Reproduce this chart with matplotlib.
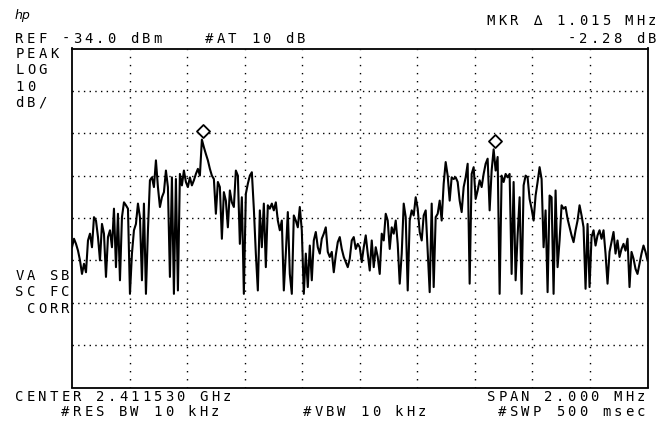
import numpy as np
import matplotlib
matplotlib.use("Agg")
import matplotlib.pyplot as plt
from matplotlib.path import Path
from matplotlib.transforms import ScaledTranslation

W, H, DPI = 657, 421, 100

# analyzer settings
ref_level = -34.0      # dBm, top graticule line
db_per_div = 10
n_vdiv = 8
n_hdiv = 10
span_mhz = 2.0

# swept trace, dBm, left to right across the span
trace_dbm = [
    -80.9, -78.9, -80.1, -81.7, -84.0, -87.2, -84.8, -86.8, -79.3, -77.7, -80.9, -73.8,
    -74.6, -78.5, -84.0, -75.4, -77.7, -87.9, -78.5, -76.9, -80.9, -71.8, -85.6, -73.0,
    -88.7, -73.8, -70.3, -71.0, -71.8, -91.9, -82.4, -76.9, -75.4, -70.6, -73.8, -88.7,
    -70.6, -91.9, -76.9, -65.1, -64.4, -66.7, -60.4, -66.7, -71.4, -69.1, -67.9, -62.8,
    -66.7, -87.9, -64.4, -91.9, -64.8, -91.1, -63.6, -66.3, -62.8, -65.5, -66.7, -64.4,
    -66.3, -65.1, -63.6, -62.4, -64.0, -55.5, -57.3, -58.9, -60.4, -62.4, -64.0, -64.8,
    -73.0, -65.5, -66.7, -78.9, -67.9, -69.9, -76.2, -67.5, -70.3, -71.4, -62.8, -64.0,
    -80.1, -69.1, -91.9, -68.3, -65.9, -64.0, -63.2, -71.8, -82.4, -91.1, -72.2, -80.9,
    -70.6, -85.6, -71.0, -71.8, -70.6, -72.2, -70.3, -74.6, -76.9, -74.6, -91.1, -82.4,
    -72.6, -87.2, -91.9, -73.4, -74.6, -76.2, -71.4, -76.9, -91.9, -82.4, -90.3, -80.5,
    -88.7, -79.3, -77.3, -80.9, -82.4, -78.9, -77.7, -76.2, -82.0, -83.2, -82.0, -86.8,
    -82.8, -79.7, -78.5, -81.3, -83.2, -84.4, -85.6, -83.6, -79.3, -78.5, -81.3, -80.1,
    -80.9, -84.4, -80.9, -78.1, -82.4, -86.4, -79.3, -85.6, -80.9, -83.2, -87.2, -77.7,
    -79.3, -73.0, -74.6, -81.3, -76.2, -77.7, -74.6, -80.1, -89.5, -82.4, -70.6, -73.8,
    -91.1, -74.6, -72.2, -73.4, -69.1, -71.8, -77.3, -79.3, -73.4, -72.2, -81.7, -91.5,
    -70.6, -90.3, -73.8, -73.0, -69.9, -74.6, -65.9, -60.8, -64.0, -69.9, -64.4, -64.8,
    -64.4, -65.5, -69.9, -72.6, -66.7, -64.4, -61.2, -89.5, -63.6, -62.0, -69.5, -67.5,
    -65.1, -66.7, -63.6, -61.2, -60.0, -72.2, -62.8, -57.8, -62.8, -59.6, -91.9, -64.0,
    -65.5, -63.6, -64.4, -63.6, -87.2, -65.5, -88.7, -78.1, -69.1, -91.9, -66.3, -64.0,
    -64.4, -69.5, -71.8, -74.6, -68.7, -65.5, -62.0, -64.8, -80.9, -72.2, -91.5, -68.7,
    -69.1, -91.9, -67.5, -85.6, -79.3, -71.0, -71.8, -71.4, -74.2, -76.2, -78.1, -79.7,
    -76.9, -74.6, -71.0, -73.4, -76.2, -90.7, -75.4, -90.3, -78.5, -76.9, -80.5, -78.1,
    -76.9, -78.9, -76.9, -82.4, -89.5, -82.0, -79.7, -77.3, -82.4, -79.3, -83.2, -81.3,
    -80.1, -81.7, -78.9, -90.3, -82.0, -83.6, -86.0, -87.2, -84.8, -82.4, -80.5, -82.0,
    -84.0,
]

# marker pair (offset from centre in MHz, level in dBm)
mkr_freq = [-0.545, 0.470]
mkr_level = [-55.5, -57.78]

# annotation text: (column, baseline px, string)
screen_text = [
    (41, 25, "MKR \u2206 1.015 MHz"),
    (0, 43, "REF -34.0 dBm"),
    (16.5, 43, "#AT 10 dB"),
    (48, 43, "-2.28 dB"),
    (0, 58, "PEAK"),
    (0, 74, "LOG"),
    (0, 91, "10"),
    (0, 107, "dB/"),
    (0, 280, "VA SB"),
    (0, 296, "SC FC"),
    (1, 313, "CORR"),
    (0, 401, "CENTER 2.411530 GHz"),
    (41, 401, "SPAN 2.000 MHz"),
    (4, 416, "#RES BW 10 kHz"),
    (25, 416, "#VBW 10 kHz"),
    (42, 416, "#SWP 500 msec"),
]

plt.rcParams["lines.scale_dashes"] = False

fig = plt.figure(figsize=(W / DPI, H / DPI), dpi=DPI)
fig.patch.set_facecolor("white")

left, right, top, bottom = 72.0, 647.5, 48.5, 387.5
ax = fig.add_axes([left / W, 1 - bottom / H, (right - left) / W, (bottom - top) / H])
ax.set_xlim(-span_mhz / 2, span_mhz / 2)
ax.set_ylim(ref_level - n_vdiv * db_per_div, ref_level)
ax.set_xticks([])
ax.set_yticks([])
for sp in ax.spines.values():
    sp.set_linewidth(1.3)
    sp.set_color("black")

# dotted graticule
for k in range(1, n_vdiv):
    ax.axhline(ref_level - k * db_per_div, color="black", lw=1.0,
               linestyle=(0, (1.0, 3.1)), zorder=1)
for k in range(1, n_hdiv):
    ax.axvline(-span_mhz / 2 + k * span_mhz / n_hdiv, color="black", lw=1.0,
               linestyle=(0, (1.0, 4.8)), zorder=1)

freq = np.linspace(-span_mhz / 2, span_mhz / 2, len(trace_dbm))
ax.plot(freq, trace_dbm, color="black", lw=1.5, zorder=3)

# diamond markers sitting just above the marked points
diamond = Path([(0, -1), (1, 0), (0, 1), (-1, 0), (0, -1)],
               [Path.MOVETO, Path.LINETO, Path.LINETO, Path.LINETO, Path.CLOSEPOLY])
lift = ax.transData + ScaledTranslation(0, 8.5 / DPI, fig.dpi_scale_trans)
ax.plot(mkr_freq, mkr_level, ls="none", marker=diamond, ms=9.4, mfc="white",
        mec="black", mew=1.3, transform=lift, zorder=4, clip_on=False)

# fixed-pitch screen annotations, one glyph per character cell
x0, pitch = 15.0, 11.5
for col, base, s in screen_text:
    for i, ch in enumerate(s):
        if ch == " ":
            continue
        cx = x0 + (col + i) * pitch + 4.5
        fig.text(cx / W, 1 - base / H, ch, ha="center", va="baseline",
                 fontsize=10, family=["DejaVu Sans Mono", "DejaVu Sans"])

fig.text(15 / W, 1 - 19 / H, "hp", ha="left", va="baseline", fontsize=9,
         style="italic", family="DejaVu Sans")

fig.savefig("out.png", dpi=DPI)
